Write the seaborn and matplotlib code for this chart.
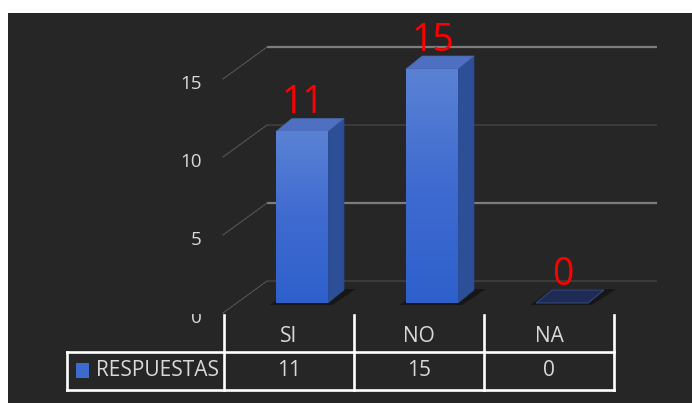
import numpy as np
import pandas as pd
import matplotlib
matplotlib.use("Agg")
import matplotlib.pyplot as plt
import matplotlib.transforms as mtransforms
from matplotlib.patches import Polygon, Rectangle, ConnectionPatch
from matplotlib.lines import Line2D
from matplotlib.colors import LinearSegmentedColormap
import seaborn as sns

# ---- data -------------------------------------------------------------
categorias = ["SI", "NO", "NA"]
respuestas = [11, 15, 0]
serie = "RESPUESTAS"
ticks_y = [0, 5, 10, 15]

# ---- styling ----------------------------------------------------------
W, H = 692, 403
BG = "#262626"
TXT = "#d9d9d9"
plt.rcParams["font.family"] = ["Open Sans", "DejaVu Sans"]

fig = plt.figure(figsize=(W / 100, H / 100), dpi=100)
fig.patch.set_facecolor("white")
# pixel coordinates measured from the top-left corner of the canvas
pix = mtransforms.Affine2D().scale(1, -1).translate(0, H)
ident = mtransforms.IdentityTransform()

fig.add_artist(Rectangle((8, 13), W - 8, H - 13, transform=pix,
                         facecolor=BG, edgecolor="none", zorder=-5))

# front plane of the 3-D box: 15.6 px per unit, 130 px per category
UNIT, STEP, BASE_Y, FIRST_X = 15.6, 130, 303, 302
ax = fig.add_axes([(FIRST_X - STEP / 2) / W, (H - BASE_Y) / H,
                   3 * STEP / W, 16 * UNIT / H])
ax.set_facecolor("none")

df = pd.DataFrame({"categoria": categorias, "respuestas": respuestas})
sns.barplot(data=df, x="categoria", y="respuestas", color="#3d6acd",
            width=0.4, saturation=1, ax=ax, zorder=4, linewidth=0)
ax.set_xlim(-0.5, 2.5)
ax.set_ylim(0, 16)
ax.set_autoscale_on(False)
ax.axis("off")


def shifted(dx, dy):
    return mtransforms.offset_copy(ax.transData, fig=fig, x=dx, y=dy, units="dots")


# back-wall gridlines and the diagonal floor/side edges
back = shifted(30, 22)
front = shifted(-14, -10)
for v in ticks_y:
    bright = v in (5, 15)
    ax.plot([-0.5, 2.5], [v, v], transform=back, clip_on=False,
            color="#7c7c7c" if bright else "#3e3e3e",
            lw=1.6 if bright else 1.3, zorder=1, solid_capstyle="butt")
    con = ConnectionPatch(xyA=(-0.5, v), coordsA=front, xyB=(-0.5, v), coordsB=back,
                          color="#5a5a5a", lw=0.8, linestyle=(0, (2, 1)), zorder=1)
    fig.add_artist(con)

# y tick labels on the front edge
for v in ticks_y:
    t = ax.text(-0.5, v, str(v), transform=shifted(-35, -15), ha="right",
                va="center", color=TXT, fontsize=13.5, clip_on=False)
    if v == 0:
        t.set_clip_box(mtransforms.Bbox.from_extents(0, 0, W, H - 314))
        t.set_clip_on(True)

# 3-D faces built from each bar's geometry
T = ax.transData.transform
depth = np.array([16, 13])
grad = np.linspace(0, 1, 256).reshape(-1, 1)
front_cmap = LinearSegmentedColormap.from_list("frente", ["#2e60cc", "#3f6bd0", "#5a82d4"])
for bar in list(ax.patches):
    x0, w, h = bar.get_x(), bar.get_width(), bar.get_height()
    fl_b, fr_b = T((x0, 0)), T((x0 + w, 0))
    fl_t, fr_t = T((x0, h)), T((x0 + w, h))
    shadow = [fl_b + (-6, -2), fr_b + (4, -2), fr_b + depth + (12, 1), fl_b + depth + (0, 1)]
    ax.add_artist(Polygon(shadow, closed=True, transform=ident, clip_on=False,
                          facecolor="#161616", edgecolor="none", zorder=2))
    if h > 0:
        img = ax.imshow(grad, extent=(x0, x0 + w, 0, h), origin="lower", cmap=front_cmap,
                        aspect="auto", zorder=4.5, interpolation="bilinear")
        img.set_clip_path(bar)
        side = [fr_b, fr_t, fr_t + depth, fr_b + depth]
        ax.add_artist(Polygon(side, closed=True, transform=ident, clip_on=False,
                              facecolor="#2c4f97", edgecolor="#2a4a8c", lw=0.5, zorder=4))
        top = [fl_t, fr_t, fr_t + depth, fl_t + depth]
        ax.add_artist(Polygon(top, closed=True, transform=ident, clip_on=False,
                              facecolor="#4f70c2", edgecolor="#46639f", lw=0.5, zorder=4))
    else:
        top = [fl_t, fr_t, fr_t + depth, fl_t + depth]
        ax.add_artist(Polygon(top, closed=True, transform=ident, clip_on=False,
                              facecolor="#1e2b55", edgecolor="#34467a", lw=0.8, zorder=4))

ax.set_xlim(-0.5, 2.5)
ax.set_ylim(0, 16)

# value labels
for i, v in enumerate(respuestas):
    ax.annotate(str(v), xy=(i, v), xytext=(1, 18), textcoords="offset pixels",
                ha="center", va="baseline", color="red", fontsize=27,
                annotation_clip=False, zorder=6)

# ---- data table below the plot ----------------------------------------
TABLE_SHIFT = -13
edges = [T((b, 0))[0] + TABLE_SHIFT for b in np.arange(len(categorias) + 1) - 0.5]
centers = [T((i, 0))[0] + TABLE_SHIFT for i in range(len(categorias))]
LEFT, TOP_COL, ROW_TOP, ROW_BOT = 67, 315, 352, 390
line_kw = dict(transform=pix, color="white", lw=1.9, zorder=6, solid_capstyle="projecting")
for x in edges:
    fig.add_artist(Line2D([x, x], [TOP_COL, ROW_BOT], **line_kw))
fig.add_artist(Line2D([LEFT, LEFT], [ROW_TOP, ROW_BOT], **line_kw))
for y in (ROW_TOP, ROW_BOT):
    fig.add_artist(Line2D([LEFT, edges[-1]], [y, y], **line_kw))

for c, cat, v in zip(centers, categorias, respuestas):
    fig.text(c, 337, cat, transform=pix, ha="center", va="center", color=TXT, fontsize=15)
    fig.text(c, 371, str(v), transform=pix, ha="center", va="center", color=TXT, fontsize=15)

fig.add_artist(Rectangle((76, 363), 13, 15, transform=pix, facecolor="#3d6acd",
                         edgecolor="none", zorder=6))
fig.text(96, 370.5, serie, transform=pix, ha="left", va="center", color=TXT, fontsize=15)

fig.savefig("out.png", dpi=100, facecolor=fig.get_facecolor())
